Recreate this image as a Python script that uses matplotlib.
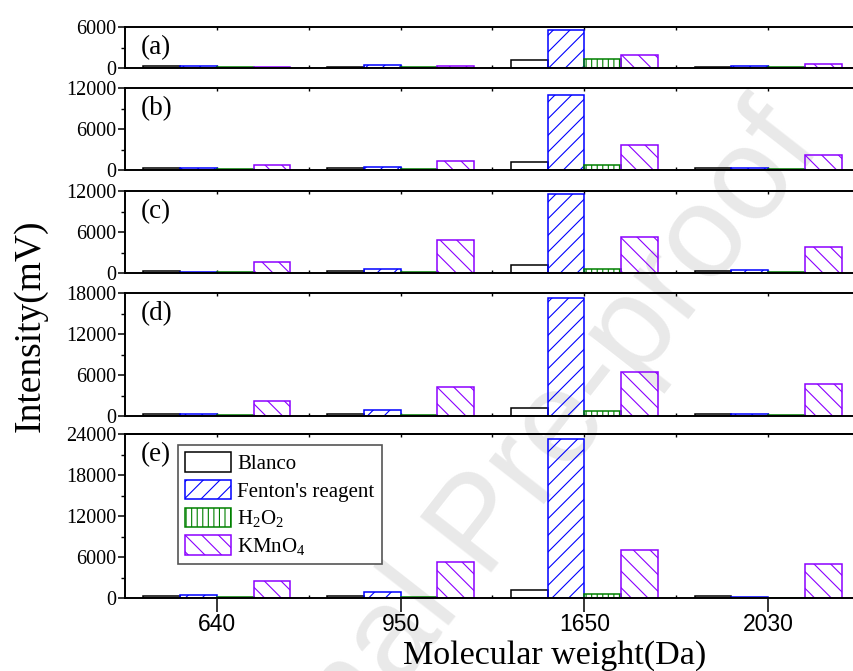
import matplotlib
matplotlib.use("Agg")
import matplotlib.pyplot as plt
import numpy as np
from matplotlib.ticker import MultipleLocator, FixedLocator

# ---------------- data ----------------
categories = ['640', '950', '1650', '2030']
series_names = ['Blanco', "Fenton's reagent", r'H$_\mathregular{2}$O$_\mathregular{2}$', r'KMnO$_\mathregular{4}$']
panel_labels = ['(a)', '(b)', '(c)', '(d)', '(e)']

blanco_a = [240, 200, 1160, 200]
fenton_a = [340, 380, 5600, 350]
h2o2_a = [100, 150, 1260, 100]
kmno4_a = [200, 350, 1840, 530]

blanco_b = [250, 250, 1170, 250]
fenton_b = [300, 490, 11030, 340]
h2o2_b = [100, 100, 680, 100]
kmno4_b = [730, 1310, 3640, 2190]

blanco_c = [340, 340, 1220, 340]
fenton_c = [200, 630, 11520, 390]
h2o2_c = [100, 150, 630, 200]
kmno4_c = [1660, 4880, 5270, 3860]

blanco_d = [250, 250, 1220, 250]
fenton_d = [340, 880, 17270, 250]
h2o2_d = [150, 150, 680, 100]
kmno4_d = [2150, 4300, 6460, 4740]

blanco_e = [290, 290, 1220, 290]
fenton_e = [390, 880, 23270, 100]
h2o2_e = [150, 150, 630, 50]
kmno4_e = [2440, 5220, 7020, 4980]

ymax = [6000, 12000, 12000, 18000, 24000]

panel_data = [
    [blanco_a, fenton_a, h2o2_a, kmno4_a],
    [blanco_b, fenton_b, h2o2_b, kmno4_b],
    [blanco_c, fenton_c, h2o2_c, kmno4_c],
    [blanco_d, fenton_d, h2o2_d, kmno4_d],
    [blanco_e, fenton_e, h2o2_e, kmno4_e],
]

# ---------------- style ----------------
plt.rcParams['font.family'] = ['Liberation Serif', 'DejaVu Serif']
plt.rcParams['mathtext.fontset'] = 'custom'
plt.rcParams['mathtext.rm'] = 'Liberation Serif'
plt.rcParams['mathtext.it'] = 'Liberation Serif:italic'
plt.rcParams['hatch.linewidth'] = 0.8

colors = ['black', '#0000FF', '#008000', '#8B00FF']
faces = ['white', 'none', 'none', 'none']
hatches = [None, '//', '|||', '\\\\']

W, H = 854, 671
fig = plt.figure(figsize=(W / 100, H / 100), dpi=100)
fig.patch.set_facecolor('white')

# panel pixel extents (top, bottom)
extents = [(27, 68), (88, 170), (191, 273), (293, 416), (434, 598)]
left_px, right_px = 125, 860

x = np.arange(len(categories))
bw = 0.2
offsets = [-0.3, -0.1, 0.1, 0.3]

axes = []
for i, (top, bot) in enumerate(extents):
    ax = fig.add_axes([left_px / W, 1 - bot / H, (right_px - left_px) / W, (bot - top) / H])
    ax.set_facecolor('none')
    handles = []
    for j in range(4):
        b = ax.bar(x + offsets[j], panel_data[i][j], width=bw, facecolor=faces[j],
                   edgecolor=colors[j], hatch=hatches[j], linewidth=1.1,
                   label=series_names[j], zorder=2)
        handles.append(b)
    ax.set_xlim(-0.5, 3.5)
    ax.set_ylim(0, ymax[i])
    ax.yaxis.set_major_locator(MultipleLocator(6000))
    ax.yaxis.set_minor_locator(MultipleLocator(3000))
    ax.tick_params(axis='y', which='major', direction='out', length=5, width=1.1,
                   labelsize=14.5, pad=1)
    ax.tick_params(axis='y', which='minor', direction='out', length=3, width=1.0)
    ax.xaxis.set_major_locator(FixedLocator(x))
    ax.xaxis.set_minor_locator(FixedLocator([0.5, 1.5, 2.5]))
    for s in ['left', 'top', 'bottom', 'right']:
        ax.spines[s].set_linewidth(1.4)
    if i < 4:
        ax.tick_params(axis='x', which='both', top=True, bottom=True, direction='in',
                       length=2.5, width=1.0, labelbottom=False)
    else:
        ax.tick_params(axis='x', which='major', direction='out', length=10, width=1.1,
                       top=False, bottom=True, pad=1)
        ax.tick_params(axis='x', which='minor', direction='in', length=2.5, width=1.0,
                       top=True, bottom=True)
        ax.set_xticklabels(categories, fontfamily='Liberation Sans', fontsize=16.5)
        sec = ax.secondary_xaxis('top')
        sec.set_xticks(x)
        sec.tick_params(direction='in', length=2.5, width=1.0, labeltop=False)
        sec.spines['top'].set_linewidth(1.4)
    ax.annotate(panel_labels[i], xy=(0, 1), xycoords='axes fraction',
                xytext=(11, -15), textcoords='offset points', ha='left', va='center',
                fontsize=19.5)
    axes.append((ax, handles))

# legend in panel (e)
ax_e, h_e = axes[-1]
leg = ax_e.legend(handles=h_e, labels=series_names, loc='upper left',
                  bbox_to_anchor=(0.072, 0.933), borderaxespad=0, fontsize=15,
                  handlelength=2.2, handleheight=1.06, handletextpad=0.3,
                  labelspacing=0.28, borderpad=0.35, fancybox=False, framealpha=1,
                  edgecolor='#555555')
leg.get_frame().set_linewidth(1.2)

# axis labels
fig.text(30 / W, 1 - 326 / H, 'Intensity(mV)', rotation=90, ha='center', va='center',
         fontsize=27)
fig.text(555 / W, 1 - 656 / H, 'Molecular weight(Da)', ha='center', va='center',
         fontsize=24.5)

# watermark
fig.text(483 / W, 1 - 527 / H, 'Journal Pre-proof', rotation=52, ha='center', va='center',
         fontsize=95, color='#E9E9E9', family=['Liberation Sans'], zorder=-1,
         rotation_mode='anchor')

fig.savefig('out.png', dpi=100, facecolor='white')
